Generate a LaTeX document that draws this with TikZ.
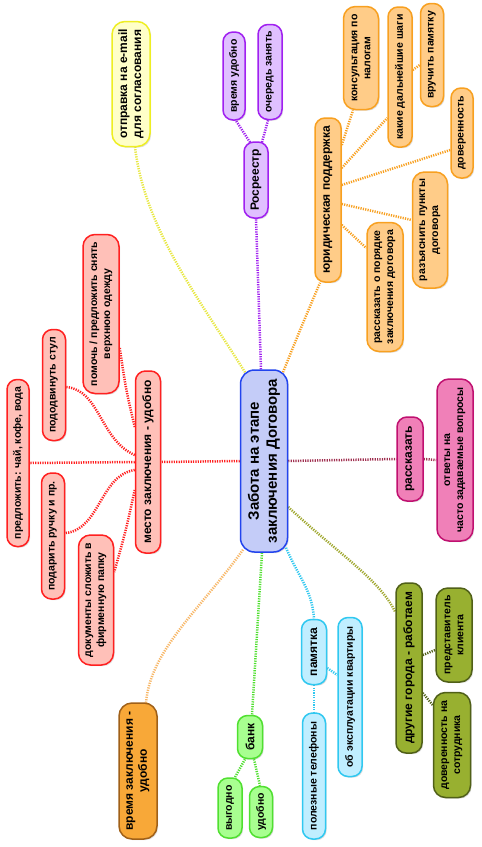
\documentclass[tikz,border=0pt]{standalone}
\usepackage{fontspec}
\setmainfont{Liberation Sans}
\usetikzlibrary{shadows,calc,backgrounds}
\definecolor{cBf}{HTML}{C4CCF8}\definecolor{cBd}{HTML}{2244EE}
\definecolor{cYf}{HTML}{FFFFC8}\definecolor{cYd}{HTML}{EEEE22}\definecolor{cYl}{HTML}{E8E840}
\definecolor{cPf}{HTML}{E0C0FF}\definecolor{cPd}{HTML}{A020F0}
\definecolor{cOf}{HTML}{FFCC88}\definecolor{cOd}{HTML}{F8A020}
\definecolor{cKf}{HTML}{F080B8}\definecolor{cKd}{HTML}{C01070}\definecolor{cKl}{HTML}{A03050}
\definecolor{cRf}{HTML}{FFC0B8}\definecolor{cRd}{HTML}{FF2020}
\definecolor{cDf}{HTML}{F8A838}\definecolor{cDd}{HTML}{A06018}\definecolor{cDl}{HTML}{F8B868}
\definecolor{cGf}{HTML}{A8FF90}\definecolor{cGd}{HTML}{50E030}
\definecolor{cCf}{HTML}{C0EEFF}\definecolor{cCd}{HTML}{30C8F0}
\definecolor{cVf}{HTML}{98B030}\definecolor{cVd}{HTML}{506018}\definecolor{cVl}{HTML}{A0A830}
\tikzset{
 nb/.style={draw, rounded corners=10pt, line width=1.5pt, rotate=90, align=center, inner sep=1pt, text=black,
   drop shadow={opacity=0.25,shadow xshift=1.2pt,shadow yshift=-1.2pt}},
 lf/.style={nb, font=\bfseries\fontsize{10.5}{13}\selectfont},
 br/.style={nb, font=\bfseries\fontsize{12}{14}\selectfont},
 cn/.style={line width=2.5pt, dash pattern=on 1.2pt off 1.2pt},
 blue/.style={fill=cBf, draw=cBd},
 yel/.style={fill=cYf, draw=cYd},
 pur/.style={fill=cPf, draw=cPd},
 ora/.style={fill=cOf, draw=cOd},
 pin/.style={fill=cKf, draw=cKd},
 redn/.style={fill=cRf, draw=cRd},
 dor/.style={fill=cDf, draw=cDd},
 grn/.style={fill=cGf, draw=cGd},
 cya/.style={fill=cCf, draw=cCd},
 oli/.style={fill=cVf, draw=cVd}
}
\begin{document}
\begin{tikzpicture}[x=1pt,y=-1pt]
\useasboundingbox (0,0) rectangle (482,847);
% central
\node[br, blue, minimum width=182pt, minimum height=47pt, rounded corners=14pt, font=\bfseries\fontsize{15}{18}\selectfont] (c) at (264,461) {Забота на этапе\\заключения Договора};
% yellow
\node[br, yel, minimum width=125pt, minimum height=38pt, rounded corners=13pt] (y1) at (131,84) {отправка на e-mail\\для согласования};
% purple
\node[br, pur, minimum width=76pt, minimum height=24pt] (r) at (256,180) {Росреестр};
\node[lf, pur, minimum width=88pt, minimum height=22pt] (vu) at (234,76) {время удобно};
\node[lf, pur, minimum width=95pt, minimum height=24pt] (oz) at (270,72) {очередь занять};
% orange
\node[br, ora, minimum width=164pt, minimum height=26pt] (u) at (328,200) {юридическая поддержка};
\node[lf, ora, minimum width=103pt, minimum height=35pt, rounded corners=12pt] (kn) at (361,58) {консультация по\\налогам};
\node[lf, ora, minimum width=140pt, minimum height=24pt] (ks) at (400,77) {какие дальнейшие шаги};
\node[lf, ora, minimum width=103pt, minimum height=23pt] (vp) at (432,55) {вручить памятку};
\node[lf, ora, minimum width=90pt, minimum height=22pt] (dv) at (462,133) {доверенность};
\node[lf, ora, minimum width=116pt, minimum height=35pt, rounded corners=12pt] (rz) at (430,230) {разъяснить пункты\\договора};
\node[lf, ora, minimum width=129pt, minimum height=36pt, rounded corners=12pt] (rp) at (385,287) {рассказать о порядке\\заключения договора};
% pink
\node[br, pin, minimum width=84pt, minimum height=26pt] (rk) at (410,459) {рассказать};
\node[lf, pin, minimum width=162pt, minimum height=36pt, rounded corners=12pt] (ot) at (455,460) {ответы на\\часто задаваемые вопросы};
% red
\node[br, redn, minimum width=182pt, minimum height=25pt] (m) at (148,462) {место заключения - удобно};
\node[lf, redn, minimum width=159pt, minimum height=36pt, rounded corners=12pt] (pm2) at (101,314) {помочь / предложить снять\\верхнюю одежду};
\node[lf, redn, minimum width=111pt, minimum height=23pt] (pd) at (54,385) {пододвинуть стул};
\node[lf, redn, minimum width=167pt, minimum height=22pt] (pr) at (18,463) {предложить: чай, кофе, вода};
\node[lf, redn, minimum width=126pt, minimum height=23pt] (pdr) at (53,536) {подарить ручку и пр.};
\node[lf, redn, minimum width=130pt, minimum height=35pt, rounded corners=12pt] (dk) at (96,600) {документы сложить в\\фирменную папку};
% dark orange
\node[br, dor, minimum width=136pt, minimum height=38pt, rounded corners=13pt] (vz) at (138,771) {время заключения -\\удобно};
% green
\node[br, grn, minimum width=43pt, minimum height=25pt] (bank) at (250,737) {банк};
\node[lf, grn, minimum width=60pt, minimum height=24pt] (vg) at (230,808) {выгодно};
\node[lf, grn, minimum width=51pt, minimum height=23pt] (ud) at (261,812) {удобно};
% cyan
\node[br, cya, minimum width=65pt, minimum height=25pt] (pm) at (314,652) {памятка};
\node[lf, cya, minimum width=126pt, minimum height=23pt] (pt) at (314,776) {полезные телефоны};
\node[lf, cya, minimum width=159pt, minimum height=24pt] (ob) at (350,697) {об эксплуатации квартиры};
% olive
\node[br, oli, minimum width=170pt, minimum height=26pt] (dg) at (409,668) {другие города - работаем};
\node[lf, oli, minimum width=94pt, minimum height=36pt, rounded corners=12pt] (pk) at (454,635) {представитель\\клиента};
\node[lf, oli, minimum width=105pt, minimum height=37pt, rounded corners=12pt] (dn) at (452,745) {доверенность на\\сотрудника};

\begin{pgfonlayer}{background}
\fill[white] (0,0) rectangle (482,847);
% main branches
\draw[cn, cYl] ($(c.east)+(-19,3)$) .. controls (200,300) and (145,230) .. ($(y1.west)+(4,0)$);
\draw[cn, cPd] ($(c.east)+(-3,0)$) -- (r.west);
\draw[cn, cOd] ($(c.east)+(19,3)$) .. controls (300,330) .. ($(u.west)+(-8,0)$);
\draw[cn, cRd] (c.north) -- (m.south);
\draw[cn, cKl] (c.south) -- (rk.north);
\draw[cn, cKl] (rk.south) -- (ot.north);
\draw[cn, cVl] ($(c.south)+(0,46)$) .. controls (340,555) and (380,580) .. ($(dg.north)+(0,-56)$);
\draw[cn, cCd] ($(c.west)+(22,-5)$) .. controls (300,580) and (312,590) .. (pm.east);
\draw[cn, cGd] ($(c.west)+(-2,0)$) -- ($(bank.east)+(2,0)$);
\draw[cn, cDl] ($(c.west)+(-21,-3)$) .. controls (200,610) and (150,650) .. ($(vz.east)+(8,1)$);
% purple subs
\draw[cn, cPd] ($(r.east)+(-6,1)$) -- ($(vu.west)+(2,0)$);
\draw[cn, cPd] ($(r.east)+(6,1)$) -- ($(oz.west)+(-2,0)$);
% orange subs
\draw[cn, cOd] ($(u.south)+(0,-55)$) -- ($(kn.west)+(-8,0)$);
\draw[cn, cOd] ($(u.south)+(0,-32)$) -- ($(ks.north)+(0,41)$);
\draw[cn, cOd] ($(ks.south)+(0,-7)$) -- ($(vp.north)+(0,10)$);
\draw[cn, cOd] ($(u.south)+(0,-15)$) -- ($(dv.north)+(0,17)$);
\draw[cn, cOd] ($(u.south)+(0,4)$) -- ($(rz.north)+(0,-10)$);
\draw[cn, cOd] ($(u.south)+(0,25)$) -- ($(rp.north)+(0,-39)$);
% red subs
\draw[cn, cRd] ($(m.north)+(0,-35)$) .. controls (126,390) .. ($(pm2.south)+(0,34)$);
\draw[cn, cRd] ($(m.north)+(0,-7)$) .. controls (100,440) and (100,390) .. ($(pd.south)+(0,2)$);
\draw[cn, cRd] (m.north) -- (pr.south);
\draw[cn, cRd] ($(m.north)+(0,8)$) .. controls (100,475) and (100,530) .. ($(pdr.south)+(0,-3)$);
\draw[cn, cRd] ($(m.north)+(0,28)$) .. controls (126,530) .. ($(dk.south)+(0,-28)$);
% green subs
\draw[cn, cGd] ($(bank.west)+(-5,0)$) -- ($(vg.east)+(5,0)$);
\draw[cn, cGd] ($(bank.west)+(4,0)$) -- ($(ud.east)+(-1,0)$);
% cyan subs
\draw[cn, cCd] (pm.west) -- (pt.east);
\draw[cn, cCd] ($(pm.south)+(0,16)$) -- ($(ob.north)+(0,-22)$);
% olive subs
\draw[cn, cVd] ($(dg.south)+(0,-13)$) -- ($(pk.north)+(0,15)$);
\draw[cn, cVd] ($(dg.south)+(0,25)$) -- ($(dn.north)+(0,-40)$);
\end{pgfonlayer}
\end{tikzpicture}
\end{document}
